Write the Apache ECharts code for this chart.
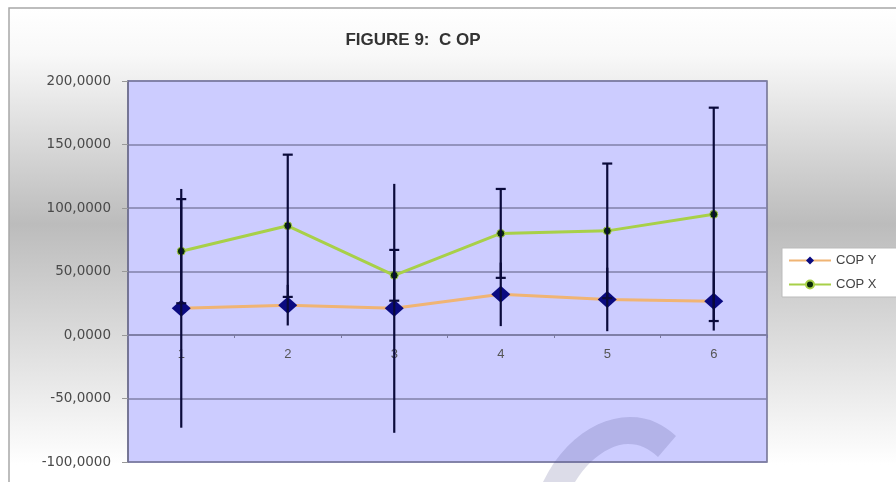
<!DOCTYPE html>
<html><head><meta charset="utf-8">
<script src="https://cdn.jsdelivr.net/npm/echarts@6/dist/echarts.min.js"></script>
<style>html,body{margin:0;padding:0;background:#fff}#c{width:896px;height:482px}</style>
</head><body><div id="c"></div>
<script>
var categories = ['1','2','3','4','5','6'];
var copY = [21, 23.5, 21, 32, 28, 26.5];
var copX = [66, 86, 47, 80, 82, 95];
var errY = [94, 16, 98, 25, 25, 23];
var errX = [41, 56, 20, 35, 53, 84];
var yTicks = [-100, -50, 0, 50, 100, 150, 200];

var chart = echarts.init(document.getElementById('c'));

var gridTop = 81, gridBottom = 20, H = 482;
var yMin = yTicks[0], yMax = yTicks[yTicks.length - 1];
var plotH = H - gridTop - gridBottom;
var zeroOffset = -(0 - yMin) / (yMax - yMin) * plotH;

function bez(p0, p1, p2, p3, n) {
  var pts = [];
  for (var i = 0; i <= n; i++) {
    var t = i / n, u = 1 - t;
    pts.push([u*u*u*p0[0] + 3*u*u*t*p1[0] + 3*u*t*t*p2[0] + t*t*t*p3[0],
              u*u*u*p0[1] + 3*u*u*t*p1[1] + 3*u*t*t*p2[1] + t*t*t*p3[1]]);
  }
  return pts;
}
var wm = [].concat(
  bez([543,482],[563,440],[598,417],[630,417],12),
  bez([630,417],[650,417],[664,425],[676,436],8),
  bez([658,457],[648,448],[640,444],[628,444],8),
  bez([628,444],[610,444],[588,460],[575,482],12)
);

function errSeries(vals, errs, cap, name) {
  var data = vals.map(function (v, i) { return [i, v - errs[i], v + errs[i]]; });
  return {
    type: 'custom', name: name, silent: true, z: 5,
    renderItem: function (params, api) {
      var lo = api.coord([api.value(0), api.value(1)]);
      var hi = api.coord([api.value(0), api.value(2)]);
      var st = {stroke: '#0a0a3a', lineWidth: 2.2};
      var children = [{type: 'line', shape: {x1: lo[0], y1: lo[1], x2: hi[0], y2: hi[1]}, style: st}];
      if (cap) {
        children.push({type: 'line', shape: {x1: lo[0] - 5, y1: lo[1], x2: lo[0] + 5, y2: lo[1]}, style: st});
        children.push({type: 'line', shape: {x1: hi[0] - 5, y1: hi[1], x2: hi[0] + 5, y2: hi[1]}, style: st});
      }
      return {type: 'group', children: children};
    },
    encode: {x: 0, y: [1, 2]},
    data: data
  };
}

chart.setOption({
  animation: false,
  graphic: [
    {type: 'rect', z: -10, silent: true, shape: {x: 9, y: 8, width: 900, height: 480},
     style: {fill: new echarts.graphic.LinearGradient(0, 0, 0, 1, [
       {offset: 0, color: '#ffffff'}, {offset: 0.1, color: '#f8f8f8'}, {offset: 0.45, color: '#bcbcbc'}, {offset: 0.95, color: '#ffffff'}, {offset: 1, color: '#ffffff'}]),
       stroke: '#a8a8a8', lineWidth: 1.5}},
    {type: 'polygon', z: 100, silent: true, shape: {points: wm}, style: {fill: 'rgba(80,80,140,0.2)'}}
  ],
  title: {text: 'FIGURE 9:  C OP', left: 408, top: 27, textAlign: 'center',
    textStyle: {fontFamily: 'Liberation Sans', fontSize: 17, fontWeight: 'bold', color: '#333'}},
  legend: {
    left: 782, top: 248, orient: 'vertical', itemGap: 11, itemWidth: 42, itemHeight: 10,
    backgroundColor: '#ffffff', borderColor: '#bbbbbb', borderWidth: 1, padding: [6, 30, 6, 6],
    textStyle: {fontFamily: 'Liberation Sans', fontSize: 13, color: '#444'},
    data: ['COP Y', 'COP X']
  },
  grid: {left: 128, right: 129, top: gridTop, bottom: gridBottom, show: true, backgroundColor: '#ccccff', borderColor: '#6f6f8f', borderWidth: 1.5},
  xAxis: {
    type: 'category', data: categories, boundaryGap: true, offset: zeroOffset,
    axisLine: {onZero: false, lineStyle: {color: '#7a7aa0', width: 1.5}},
    axisTick: {show: true, length: 3, lineStyle: {color: '#7a7aa0'}},
    axisLabel: {fontFamily: 'Liberation Sans', fontSize: 13, color: '#555', margin: 13},
    splitLine: {show: false}
  },
  yAxis: {
    type: 'value', min: yMin, max: yMax, interval: 50,
    axisLine: {show: true, lineStyle: {color: '#6f6f8f', width: 1.5}},
    axisTick: {show: true, length: 6, lineStyle: {color: '#999'}},
    axisLabel: {fontFamily: 'DejaVu Sans', fontSize: 13.5, color: '#4a4a4a', margin: 17,
      formatter: function (v) { return v.toFixed(4).replace('.', ','); }},
    splitLine: {lineStyle: {color: '#8080a8', width: 1.5}}
  },
  series: [
    {name: 'COP Y', type: 'line', data: copY, z: 3, symbol: 'diamond', symbolSize: [19, 17],
     lineStyle: {color: '#f0b474', width: 3}, itemStyle: {color: '#0a0a80'}},
    {name: 'COP X', type: 'line', data: copX, z: 3, symbol: 'circle', symbolSize: 8,
     lineStyle: {color: '#a8d048', width: 3}, itemStyle: {color: '#0a2a0a', borderColor: '#a8d048', borderWidth: 1}},
    errSeries(copY, errY, false, 'errY'),
    errSeries(copX, errX, true, 'errX')
  ]
});
</script></body></html>
